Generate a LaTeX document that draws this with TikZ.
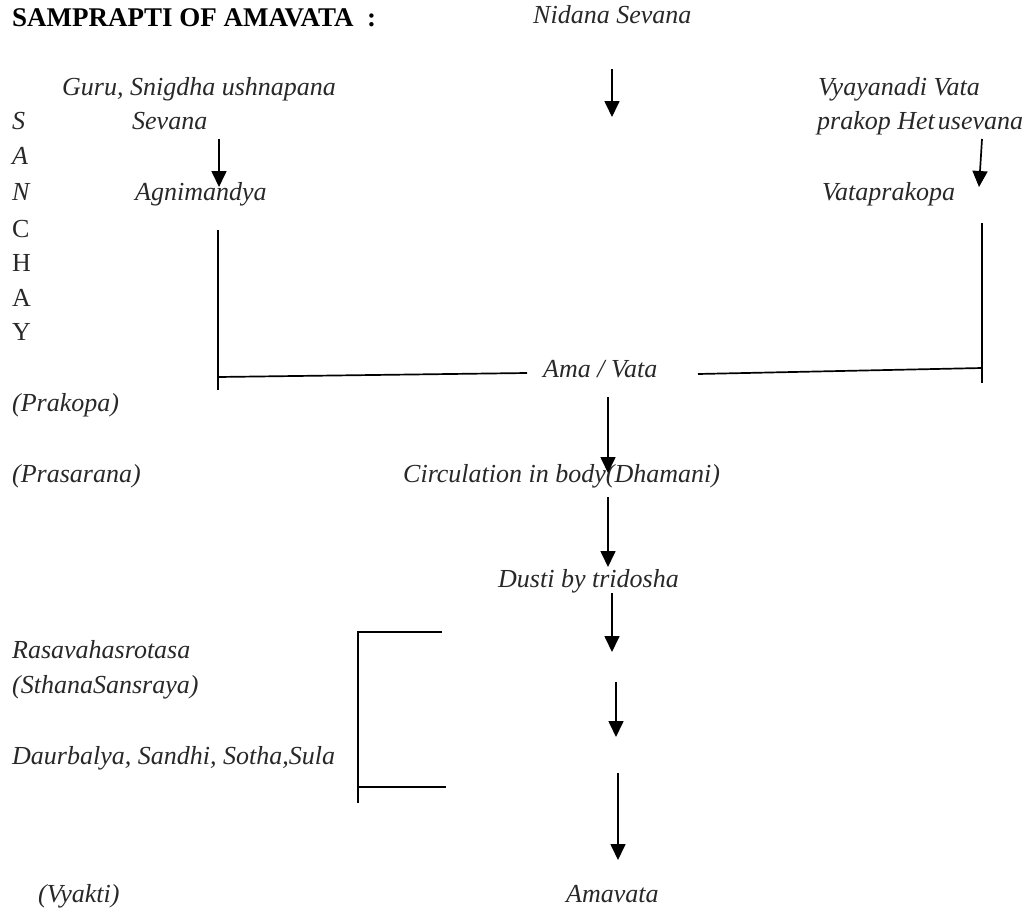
\documentclass[tikz,border=0pt]{standalone}
\usepackage{fontspec}
\setmainfont{Liberation Serif}
\usetikzlibrary{arrows.meta}
\definecolor{txt}{RGB}{40,40,40}
\begin{document}
\begin{tikzpicture}[x=1pt,y=-1pt,
  lbl/.style={anchor=base west,inner sep=0pt,text=txt,font=\fontsize{26}{31}\selectfont\itshape},
  upr/.style={anchor=base west,inner sep=0pt,text=txt,font=\fontsize{26}{31}\selectfont},
  ttl/.style={anchor=base west,inner sep=0pt,font=\fontsize{27}{32}\selectfont\bfseries},
  arr/.style={line width=1.7pt,-{Triangle[width=15pt,length=16pt]}},
  ln/.style={line width=1.7pt}]
\useasboundingbox[fill=white] (0,0) rectangle (1031,913);
% texts
\node[ttl] (title) at (12,26) {SAMPRAPTI OF AMAVATA\ \ :};
\node[lbl] (nidana) at (533,23) {Nidana Sevana};
\node[lbl] (guru) at (62,95) {Guru, Snigdha ushnapana};
\node[lbl] (sevana) at (132,129) {Sevana};
\node[lbl] (vyaya) at (818,95) {Vyayanadi Vata};
\node[lbl] (prakop) at (817,129) {prakop Het\kern3pt usevana};
\node[lbl] (s1) at (12,129) {S};
\node[lbl] (s2) at (12,164) {A};
\node[lbl] (s3) at (12,200) {N};
\node[upr] (s4) at (12,237) {C};
\node[upr] (s5) at (12,271) {H};
\node[upr] (s6) at (12,306) {A};
\node[upr] (s7) at (12,340) {Y};
\node[lbl] (agni) at (135,200) {Agnimandya};
\node[lbl] (vatap) at (822,200) {Vataprakopa};
\node[lbl] (ama) at (543,377) {Ama / Vata};
\node[lbl] (prakopa) at (12,411) {(Prakopa)};
\node[lbl] (prasarana) at (12,482) {(Prasarana)};
\node[lbl] (circ) at (403,482) {Circulation in body(Dhamani)};
\node[lbl] (dusti) at (498,587) {Dusti by tridosha};
\node[lbl] (rasa) at (12,658) {Rasavahasrotasa};
\node[lbl] (sthana) at (12,693) {(SthanaSansraya)};
\node[lbl] (daur) at (12,764) {Daurbalya, Sandhi, Sotha,Sula};
\node[lbl] (vyakti) at (38,902) {(Vyakti)};
\node[lbl] (amavata) at (566,902) {Amavata};
% connector end points
\coordinate (a1s) at (612,69);  \coordinate (a1e) at (612,117);
\coordinate (a2s) at (219,139); \coordinate (a2e) at (219,187);
\coordinate (a3s) at (982,139); \coordinate (a3e) at (979,187);
\coordinate (a4s) at (608,397); \coordinate (a4e) at (608,473);
\coordinate (a5s) at (608,497); \coordinate (a5e) at (608,567);
\coordinate (a6s) at (612,593); \coordinate (a6e) at (612,652);
\coordinate (a7s) at (616,682); \coordinate (a7e) at (616,737);
\coordinate (a8s) at (618,773); \coordinate (a8e) at (618,860);
\coordinate (lvt) at (218,230); \coordinate (lvb) at (218,390);
\coordinate (lh1) at (218,377); \coordinate (lh2) at (527,373);
\coordinate (rvt) at (982,223); \coordinate (rvb) at (982,383);
\coordinate (rh1) at (698,374); \coordinate (rh2) at (982,368);
\coordinate (bt) at (442,632); \coordinate (btl) at (358,632);
\coordinate (bbl) at (358,803);
\coordinate (bm1) at (358,787); \coordinate (bm2) at (446,787);
% arrows
\draw[arr] (a1s) -- (a1e);
\draw[arr] (a2s) -- (a2e);
\draw[arr] (a3s) -- (a3e);
\draw[arr] (a4s) -- (a4e);
\draw[arr] (a5s) -- (a5e);
\draw[arr] (a6s) -- (a6e);
\draw[arr] (a7s) -- (a7e);
\draw[arr] (a8s) -- (a8e);
% lines
\draw[ln] (lvt) -- (lvb);
\draw[ln] (lh1) -- (lh2);
\draw[ln] (rvt) -- (rvb);
\draw[ln] (rh1) -- (rh2);
\draw[ln] (bt) -- (btl) -- (bbl);
\draw[ln] (bm1) -- (bm2);
\end{tikzpicture}
\end{document}
